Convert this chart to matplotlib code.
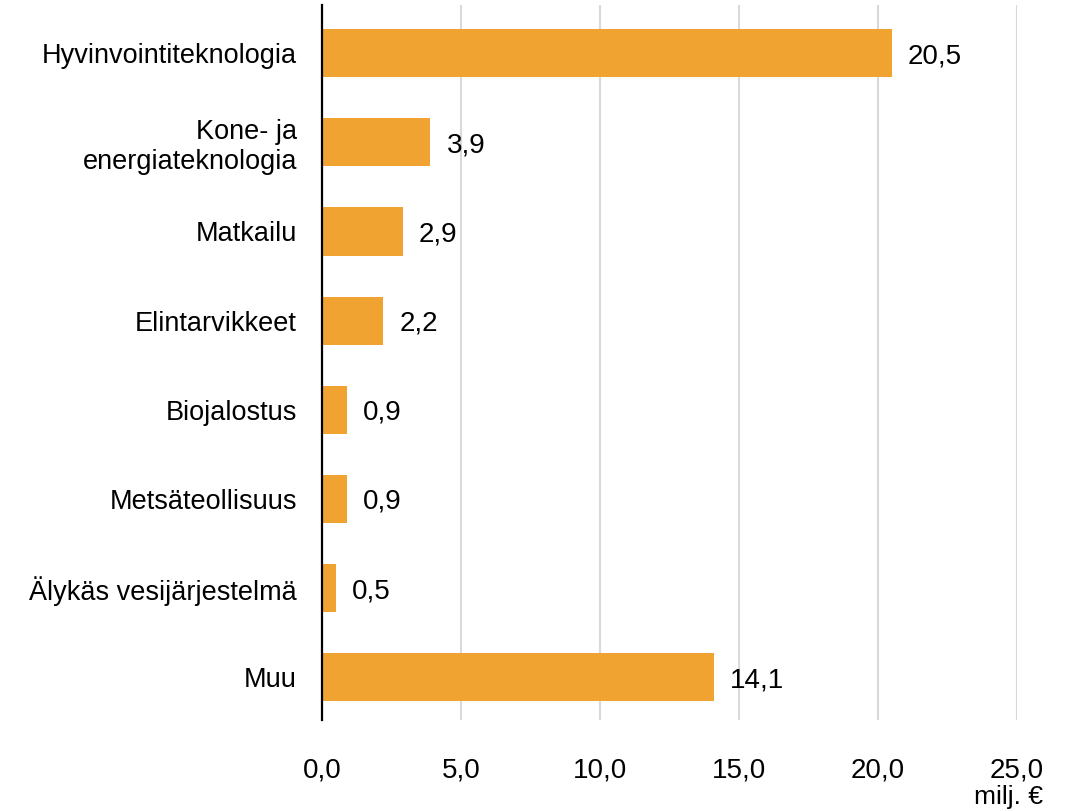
import matplotlib.pyplot as plt

plt.rcParams['font.family'] = ['Liberation Sans', 'DejaVu Sans']

categories = ["Hyvinvointiteknologia", "Kone- ja\nenergiateknologia", "Matkailu",
              "Elintarvikkeet", "Biojalostus", "Metsäteollisuus",
              "Älykäs vesijärjestelmä", "Muu"]
values = [20.5, 3.9, 2.9, 2.2, 0.9, 0.9, 0.5, 14.1]
xticks = [0, 5, 10, 15, 20, 25]

fig = plt.figure(figsize=(10.76, 8.11), dpi=100)
ax = fig.add_axes([0.2993, 0.1122, 0.6459, 0.8816])

y = list(range(len(categories)))
ax.barh(y, values, height=0.54, color="#F0A330", zorder=2)
for yi, v in zip(y, values):
    ax.text(v + 0.58, yi, f"{v:.1f}".replace(".", ","), va="center_baseline", ha="left", fontsize=20)

ax.set_ylim(7.48, -0.54)
ax.set_xlim(0, 25)
ax.set_xticks(xticks)
ax.set_xticklabels([f"{t:.1f}".replace(".", ",") for t in xticks], fontsize=20)
ax.set_yticks(y)
ax.set_yticklabels(categories, fontsize=19.5)
ax.tick_params(axis="x", length=0, pad=27)
ax.tick_params(axis="y", length=0, pad=18)
ax.grid(axis="x", color="#D9D9D9", lw=1.5, zorder=0)
for s in ["top", "right", "bottom"]:
    ax.spines[s].set_visible(False)
ax.spines["left"].set_linewidth(1.6)
ax.spines["left"].set_zorder(3)

fig.text(0.969, 0.017, "milj. €", ha="right", va="center", fontsize=19)

fig.savefig("out.png", dpi=100)
